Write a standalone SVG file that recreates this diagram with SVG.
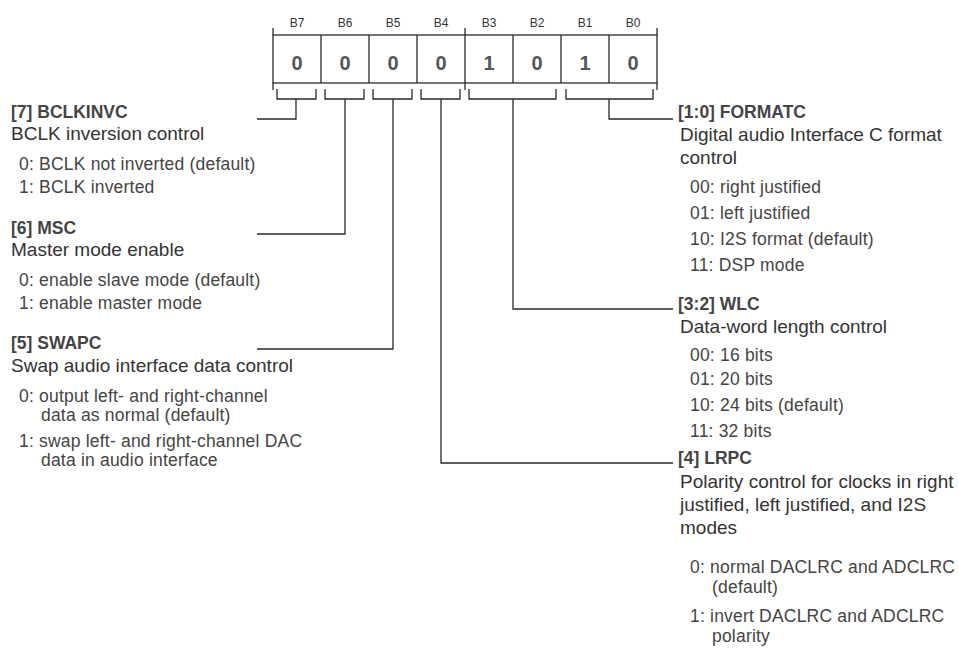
<svg xmlns="http://www.w3.org/2000/svg" width="959" height="648" viewBox="0 0 959 648">
<style>
text{font-family:"Liberation Sans",Arial,sans-serif;fill:#3a3a3a}
.bl{font-size:12px;text-anchor:middle;fill:#333}
.val{font-size:20px;font-weight:bold;text-anchor:middle;fill:#555}
.ttl{font-size:17.5px;font-weight:bold;fill:#444}
.dsc{font-size:19px;fill:#333}
.itm{font-size:17.5px;letter-spacing:0.2px;fill:#444}
.ln{fill:none;stroke:#2a2a2a;stroke-width:1.3}
.cell{fill:#fff;stroke:#2a2a2a;stroke-width:1.3}
</style>
<rect width="959" height="648" fill="#fff"/>
<g id="register">
<rect class="cell" x="273" y="35" width="384" height="48"/>
<path class="ln" d="M321 35V83M369 35V83M417 35V83M465 35V83M513 35V83M561 35V83M609 35V83M273 28V35M465 28V35M657 28V35M273 83V90M465 83V90M657 83V90"/>
<text class="bl" x="297" y="27">B7</text>
<text class="bl" x="345" y="27">B6</text>
<text class="bl" x="393" y="27">B5</text>
<text class="bl" x="441" y="27">B4</text>
<text class="bl" x="489" y="27">B3</text>
<text class="bl" x="537" y="27">B2</text>
<text class="bl" x="585" y="27">B1</text>
<text class="bl" x="633" y="27">B0</text>
<text class="val" x="297" y="70">0</text>
<text class="val" x="345" y="70">0</text>
<text class="val" x="393" y="70">0</text>
<text class="val" x="441" y="70">0</text>
<text class="val" x="489" y="70">1</text>
<text class="val" x="537" y="70">0</text>
<text class="val" x="585" y="70">1</text>
<text class="val" x="633" y="70">0</text>
<path class="ln" d="M277 89V99H316V89M325 89V99H364V89M373 89V99H412V89M421 89V99H460V89M469 89V99H556V89M566 89V99H653V89"/>
</g>
<g id="connectors">
<path class="ln" d="M296 99V119H257"/>
<path class="ln" d="M345 99V234H257"/>
<path class="ln" d="M393 99V349H257"/>
<path class="ln" d="M441 99V463H673"/>
<path class="ln" d="M513 99V309H673"/>
<path class="ln" d="M609 99V119H673"/>
</g>
<g id="bclkinvc">
<text class="ttl" x="11" y="118">[7]  BCLKINVC</text>
<text class="dsc" x="11" y="140">BCLK inversion control</text>
<text class="itm" x="19" y="170">0: BCLK not inverted (default)</text>
<text class="itm" x="19" y="193">1: BCLK inverted</text>
</g>
<g id="msc">
<text class="ttl" x="11" y="233.5">[6]  MSC</text>
<text class="dsc" x="11" y="256">Master mode enable</text>
<text class="itm" x="19" y="286">0: enable slave mode (default)</text>
<text class="itm" x="19" y="309">1: enable master mode</text>
</g>
<g id="swapc">
<text class="ttl" x="11" y="349">[5]  SWAPC</text>
<text class="dsc" x="11" y="371.5">Swap audio interface data control</text>
<text class="itm" x="19" y="401.5">0: output left- and right-channel</text>
<text class="itm" x="41" y="420.5">data as normal (default)</text>
<text class="itm" x="19" y="447">1: swap left- and right-channel DAC</text>
<text class="itm" x="41" y="466">data in audio interface</text>
</g>
<g id="formatc">
<text class="ttl" x="678" y="118">[1:0]  FORMATC</text>
<text class="dsc" x="680" y="141">Digital audio Interface C format</text>
<text class="dsc" x="680" y="163.5">control</text>
<text class="itm" x="690" y="193">00: right justified</text>
<text class="itm" x="690" y="219">01: left justified</text>
<text class="itm" x="690" y="245">10: I2S format (default)</text>
<text class="itm" x="690" y="271">11: DSP mode</text>
</g>
<g id="wlc">
<text class="ttl" x="678" y="309.5">[3:2]  WLC</text>
<text class="dsc" x="680" y="333">Data-word length control</text>
<text class="itm" x="690" y="361">00: 16 bits</text>
<text class="itm" x="690" y="385">01: 20 bits</text>
<text class="itm" x="690" y="411">10: 24 bits (default)</text>
<text class="itm" x="690" y="437">11: 32 bits</text>
</g>
<g id="lrpc">
<text class="ttl" x="678" y="463.5">[4]  LRPC</text>
<text class="dsc" x="680" y="488">Polarity control for clocks in right</text>
<text class="dsc" x="680" y="511">justified, left justified, and I2S</text>
<text class="dsc" x="680" y="534">modes</text>
<text class="itm" x="690" y="573">0: normal DACLRC and ADCLRC</text>
<text class="itm" x="712" y="593">(default)</text>
<text class="itm" x="690" y="622">1: invert DACLRC and ADCLRC</text>
<text class="itm" x="712" y="642">polarity</text>
</g>
</svg>
